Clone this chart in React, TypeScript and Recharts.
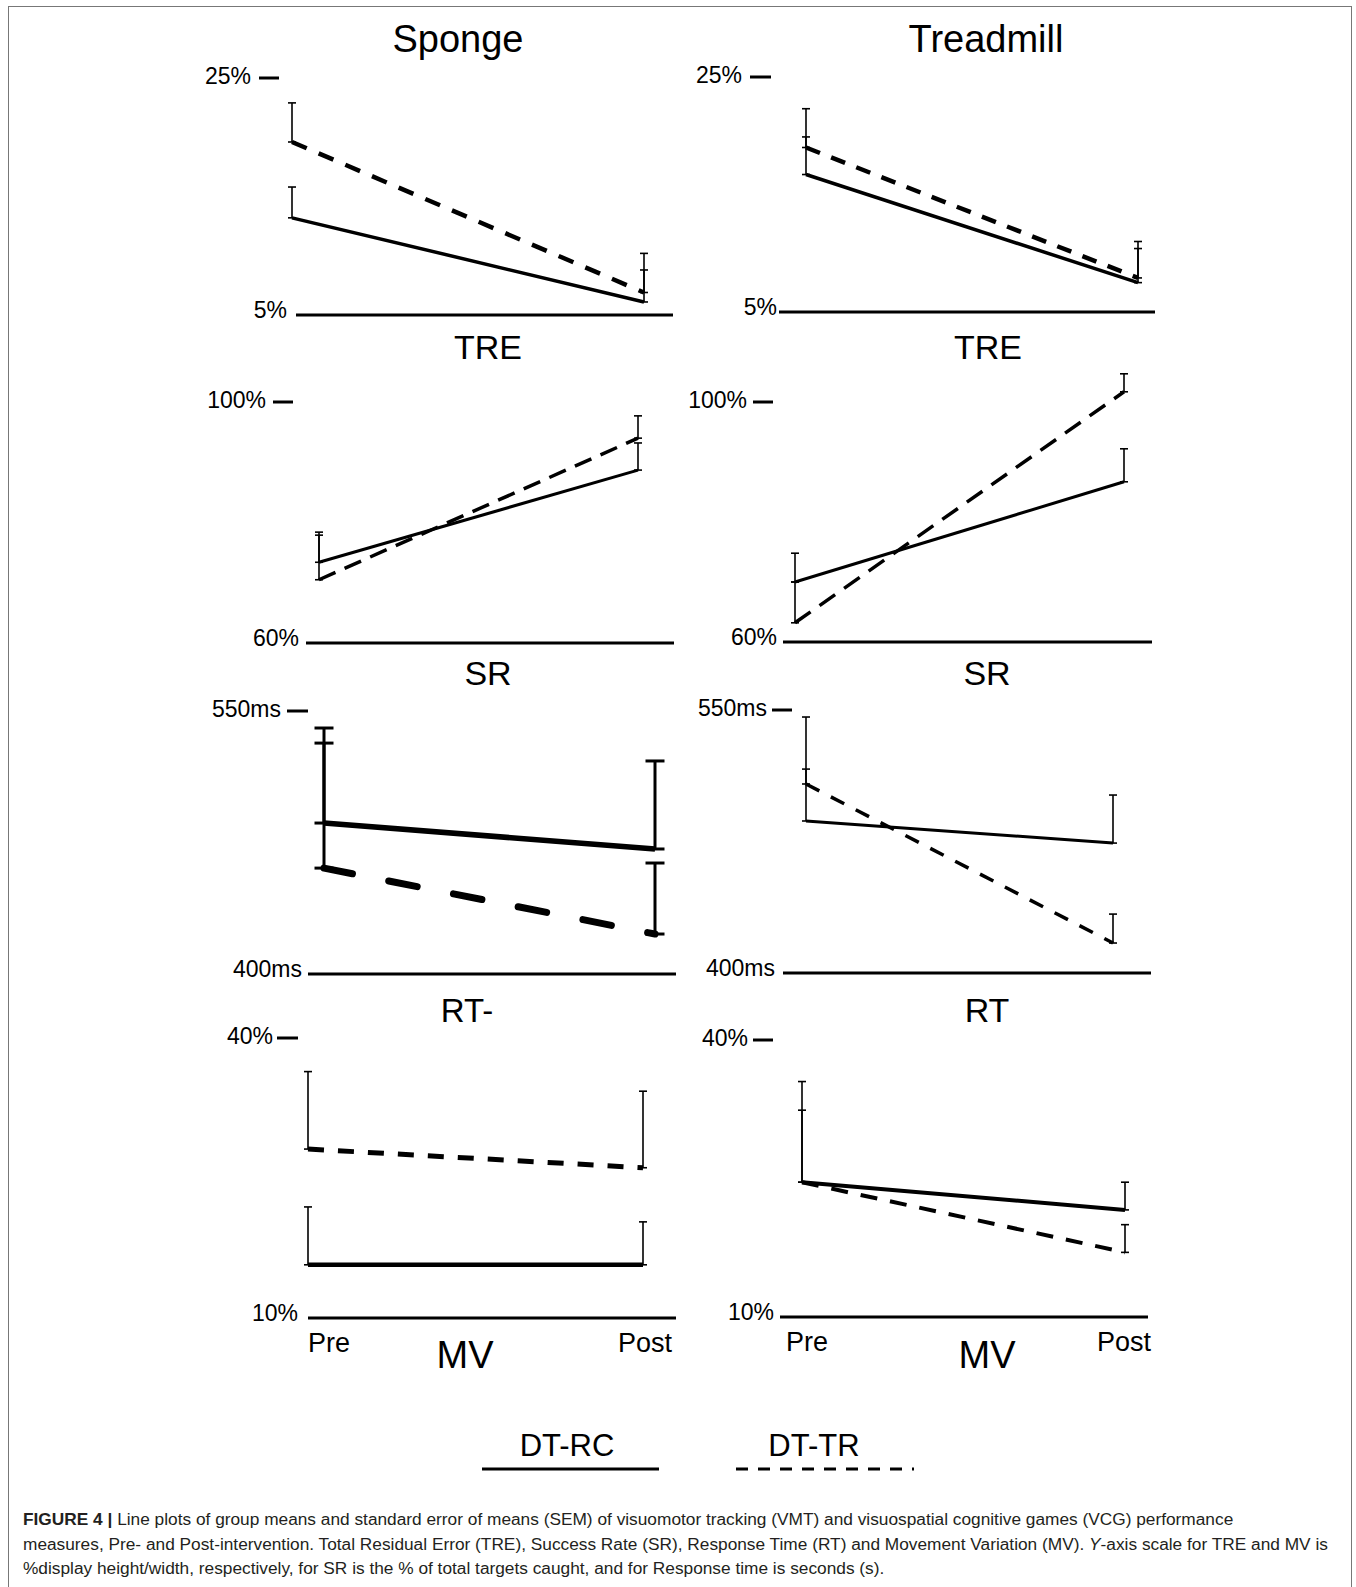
import React from 'react';
import { LineChart, Line, XAxis, YAxis, ErrorBar } from 'recharts';

const FONT = '"Liberation Sans", Arial, sans-serif';

const phases = ['Pre', 'Post'];

// axis ticks per measure: [bottom, top]
const treTicks = [5, 25];
const srTicks = [60, 100];
const rtTicks = [400, 550];
const mvTicks = [10, 40];

// group means, DT-RC (solid) and DT-TR (dashed), with the upper SEM
const spongeTreRC = [13.2, 6.1];
const spongeTreRCSem = [2.6, 2.7];
const spongeTreTR = [19.6, 6.9];
const spongeTreTRSem = [3.3, 3.3];

const treadTreRC = [16.7, 7.5];
const treadTreRCSem = [3.2, 2.9];
const treadTreTR = [19.0, 7.9];
const treadTreTRSem = [3.3, 3.1];

const spongeSrRC = [73.4, 88.7];
const spongeSrRCSem = [4.5, 4.5];
const spongeSrTR = [70.5, 94.0];
const spongeSrTRSem = [7.9, 3.7];

const treadSrRC = [70.0, 86.7];
const treadSrRCSem = [4.8, 5.5];
const treadSrTR = [63.2, 101.7];
const treadSrTRSem = [6.8, 3.0];

const spongeRtRC = [486.1, 471.3];
const spongeRtRCSem = [45.6, 50.2];
const spongeRtTR = [460.4, 422.8];
const spongeRtTRSem = [79.9, 40.5];

const treadRtRC = [486.7, 474.1];
const treadRtRCSem = [59.3, 27.4];
const treadRtTR = [507.8, 417.1];
const treadRtTRSem = [8.5, 16.5];

const spongeMvRC = [15.7, 15.7];
const spongeMvRCSem = [6.2, 4.6];
const spongeMvTR = [28.1, 26.1];
const spongeMvTRSem = [8.3, 8.2];

const treadMvRC = [24.6, 21.6];
const treadMvRCSem = [10.9, 3.0];
const treadMvTR = [24.6, 17.0];
const treadMvTRSem = [7.8, 3.0];

type Look = { rcW: number; trW: number; dash: string; cap?: 'round' | 'butt'; errW?: number; capW?: number };

type PanelCfg = {
  name: string;
  unit: string;
  ticks: number[];
  hi: number;
  rc: number[];
  rcSem: number[];
  tr: number[];
  trSem: number[];
  // page positions
  x0: number;
  x1: number;
  pre: number;
  post: number;
  topY: number;
  baseY: number;
  topLabelX: number;
  dashX: [number, number];
  lowLabelX: number;
  labelX: number;
  labelY: number;
  labelSize: number;
  look: Look;
  phasesShown?: boolean;
  preDx?: number;
  postDx?: number;
};

const panels: PanelCfg[] = [
  {
    name: 'TRE', unit: '%', ticks: treTicks, hi: 25,
    rc: spongeTreRC, rcSem: spongeTreRCSem, tr: spongeTreTR, trSem: spongeTreTRSem,
    x0: 296, x1: 673, pre: 292, post: 644, topY: 78, baseY: 315,
    topLabelX: 251, dashX: [259, 279], lowLabelX: 287, labelX: 488, labelY: 347, labelSize: 34,
    look: { rcW: 3.5, trW: 4.5, dash: '16 13' },
  },
  {
    name: 'TRE', unit: '%', ticks: treTicks, hi: 25,
    rc: treadTreRC, rcSem: treadTreRCSem, tr: treadTreTR, trSem: treadTreTRSem,
    x0: 779, x1: 1155, pre: 806, post: 1138, topY: 77, baseY: 312,
    topLabelX: 742, dashX: [750, 771], lowLabelX: 777, labelX: 988, labelY: 347, labelSize: 34,
    look: { rcW: 3.5, trW: 4.5, dash: '15 12' },
  },
  {
    name: 'SR', unit: '%', ticks: srTicks, hi: 100,
    rc: spongeSrRC, rcSem: spongeSrRCSem, tr: spongeSrTR, trSem: spongeSrTRSem,
    x0: 306, x1: 674, pre: 319, post: 638, topY: 402, baseY: 643,
    topLabelX: 266, dashX: [273, 293], lowLabelX: 299, labelX: 488, labelY: 673, labelSize: 34,
    look: { rcW: 3, trW: 3.5, dash: '18 10' },
  },
  {
    name: 'SR', unit: '%', ticks: srTicks, hi: 106,
    rc: treadSrRC, rcSem: treadSrRCSem, tr: treadSrTR, trSem: treadSrTRSem,
    x0: 783, x1: 1152, pre: 795, post: 1124, topY: 402, baseY: 642,
    topLabelX: 747, dashX: [753, 773], lowLabelX: 777, labelX: 987, labelY: 673, labelSize: 34,
    look: { rcW: 3, trW: 3.5, dash: '19 11' },
  },
  {
    name: 'RT-', unit: 'ms', ticks: rtTicks, hi: 550,
    rc: spongeRtRC, rcSem: spongeRtRCSem, tr: spongeRtTR, trSem: spongeRtTRSem,
    x0: 308, x1: 676, pre: 324, post: 655, topY: 711, baseY: 974,
    topLabelX: 281, dashX: [287, 308], lowLabelX: 302, labelX: 467, labelY: 1010, labelSize: 33,
    look: { rcW: 5.5, trW: 7, dash: '29 37', cap: 'round', errW: 3, capW: 9.5 },
  },
  {
    name: 'RT', unit: 'ms', ticks: rtTicks, hi: 550,
    rc: treadRtRC, rcSem: treadRtRCSem, tr: treadRtTR, trSem: treadRtTRSem,
    x0: 783, x1: 1151, pre: 806, post: 1113, topY: 710, baseY: 973,
    topLabelX: 767, dashX: [772, 792], lowLabelX: 775, labelX: 987, labelY: 1010, labelSize: 34,
    look: { rcW: 3, trW: 3.5, dash: '15 13' },
  },
  {
    name: 'MV', unit: '%', ticks: mvTicks, hi: 40,
    rc: spongeMvRC, rcSem: spongeMvRCSem, tr: spongeMvTR, trSem: spongeMvTRSem,
    x0: 308, x1: 676, pre: 308, post: 643, topY: 1038, baseY: 1318,
    topLabelX: 273, dashX: [277, 298], lowLabelX: 298, labelX: 465, labelY: 1354, labelSize: 38,
    look: { rcW: 4.5, trW: 5, dash: '16 14' },
    phasesShown: true, preDx: 0, postDx: 2,
  },
  {
    name: 'MV', unit: '%', ticks: mvTicks, hi: 40,
    rc: treadMvRC, rcSem: treadMvRCSem, tr: treadMvTR, trSem: treadMvTRSem,
    x0: 780, x1: 1148, pre: 802, post: 1125, topY: 1040, baseY: 1317,
    topLabelX: 748, dashX: [753, 773], lowLabelX: 774, labelX: 987, labelY: 1354, labelSize: 38,
    look: { rcW: 4, trW: 4, dash: '17 13' },
    phasesShown: true, preDx: -16, postDx: -1,
  },
];

// chart box around each plot area (y axis and x axis take part of it)
const M_LEFT = 10;
const Y_W = 100;
const M_RIGHT = 14;
const M_TOP = 24;
const M_BOTTOM = 10;
const X_H = 40;

const Panel = ({ p }: { p: PanelCfg }) => {
  const [lo, top] = p.ticks;
  const pxPer = (p.baseY - p.topY) / (top - lo);
  const plotTop = p.baseY - (p.hi - lo) * pxPer;
  const left = p.x0 - M_LEFT - Y_W;
  const topPx = plotTop - M_TOP;
  const width = p.x1 - left + M_RIGHT;
  const height = p.baseY - topPx + X_H + M_BOTTOM;

  const data = phases.map((phase, i) => ({
    phase,
    rc: p.rc[i],
    tr: p.tr[i],
    rcErr: [0, p.rcSem[i]],
    trErr: [0, p.trSem[i]],
  }));

  const yTick = (props: any) => {
    const { y, payload } = props;
    const v = payload.value;
    const label = `${v}${p.unit}`;
    if (v === top) {
      return (
        <g>
          <text x={p.topLabelX - left} y={y + 6} textAnchor="end" fontSize={23} fontFamily={FONT} fill="#000">
            {label}
          </text>
          <line x1={p.dashX[0] - left} x2={p.dashX[1] - left} y1={y} y2={y} stroke="#000" strokeWidth={3} />
        </g>
      );
    }
    return (
      <text x={p.lowLabelX - left} y={y + 3} textAnchor="end" fontSize={23} fontFamily={FONT} fill="#000">
        {label}
      </text>
    );
  };

  const xTick = (props: any) => {
    const { x, payload } = props;
    const isPre = payload.value === 'Pre';
    return (
      <text
        x={x + (isPre ? p.preDx || 0 : p.postDx || 0)}
        y={p.baseY - topPx + 34}
        textAnchor={isPre ? 'start' : 'middle'}
        fontSize={27}
        fontFamily={FONT}
        fill="#000"
      >
        {payload.value}
      </text>
    );
  };

  const errW = p.look.errW ?? 1.6;
  const capW = p.look.capW ?? 4;

  return (
    <div style={{ position: 'absolute', left, top: topPx }}>
      <LineChart width={width} height={height} data={data} margin={{ top: M_TOP, right: M_RIGHT, bottom: M_BOTTOM, left: M_LEFT }}>
        <XAxis
          dataKey="phase"
          scale="point"
          padding={{ left: p.pre - p.x0, right: p.x1 - p.post }}
          axisLine={{ stroke: '#000', strokeWidth: 3 }}
          tickLine={false}
          height={X_H}
          interval={0}
          tick={p.phasesShown ? xTick : false}
        />
        <YAxis
          type="number"
          domain={[lo, p.hi]}
          ticks={p.ticks}
          interval={0}
          width={Y_W}
          axisLine={false}
          tickLine={false}
          tick={yTick}
        />
        <Line
          dataKey="rc"
          type="linear"
          stroke="#000"
          strokeWidth={p.look.rcW}
          dot={false}
          activeDot={false}
          isAnimationActive={false}
        >
          <ErrorBar dataKey="rcErr" direction="y" width={capW} stroke="#000" strokeWidth={errW} />
        </Line>
        <Line
          dataKey="tr"
          type="linear"
          stroke="#000"
          strokeWidth={p.look.trW}
          strokeDasharray={p.look.dash}
          strokeLinecap={p.look.cap || 'butt'}
          dot={false}
          activeDot={false}
          isAnimationActive={false}
        >
          <ErrorBar dataKey="trErr" direction="y" width={capW} stroke="#000" strokeWidth={errW} />
        </Line>
      </LineChart>
    </div>
  );
};

const App = () => {
  return (
    <div
      style={{
        position: 'absolute',
        left: 0,
        top: 0,
        width: 1356,
        height: 1587,
        overflow: 'hidden',
        background: '#fff',
        fontFamily: FONT,
      }}
    >
      <div
        style={{
          position: 'absolute',
          left: 8,
          top: 6,
          width: 1342,
          height: 1620,
          border: '1.5px solid #777',
        }}
      />
      <svg width={1356} height={1587} style={{ position: 'absolute', left: 0, top: 0 }}>
        <text x={458} y={52} textAnchor="middle" fontSize={38} fontFamily={FONT}>Sponge</text>
        <text x={986} y={52} textAnchor="middle" fontSize={38} fontFamily={FONT}>Treadmill</text>
        {panels.map((p, i) => (
          <text key={i} x={p.labelX} y={p.labelY + p.labelSize * 0.358} textAnchor="middle" fontSize={p.labelSize} fontFamily={FONT}>
            {p.name}
          </text>
        ))}
        <text x={567} y={1456} textAnchor="middle" fontSize={31} fontFamily={FONT}>DT-RC</text>
        <line x1={482} x2={659} y1={1469} y2={1469} stroke="#000" strokeWidth={3} />
        <text x={814} y={1456} textAnchor="middle" fontSize={31} fontFamily={FONT}>DT-TR</text>
        <line x1={736} x2={914} y1={1469} y2={1469} stroke="#000" strokeWidth={3} strokeDasharray="12 10" />
      </svg>
      {panels.map((p, i) => (
        <Panel key={i} p={p} />
      ))}
      <div
        style={{
          position: 'absolute',
          left: 23,
          top: 1507,
          fontSize: 17.3,
          lineHeight: '24.5px',
          color: '#231f20',
          whiteSpace: 'nowrap',
        }}
      >
        <b>FIGURE 4 |</b> Line plots of group means and standard error of means (SEM) of visuomotor tracking (VMT) and
        visuospatial cognitive games (VCG) performance
        <br />
        measures, Pre- and Post-intervention. Total Residual Error (TRE), Success Rate (SR), Response Time (RT) and
        Movement Variation (MV). <i>Y</i>-axis scale for TRE and MV is
        <br />
        %display height/width, respectively, for SR is the % of total targets caught, and for Response time is seconds
        (s).
      </div>
    </div>
  );
};

export default App;
